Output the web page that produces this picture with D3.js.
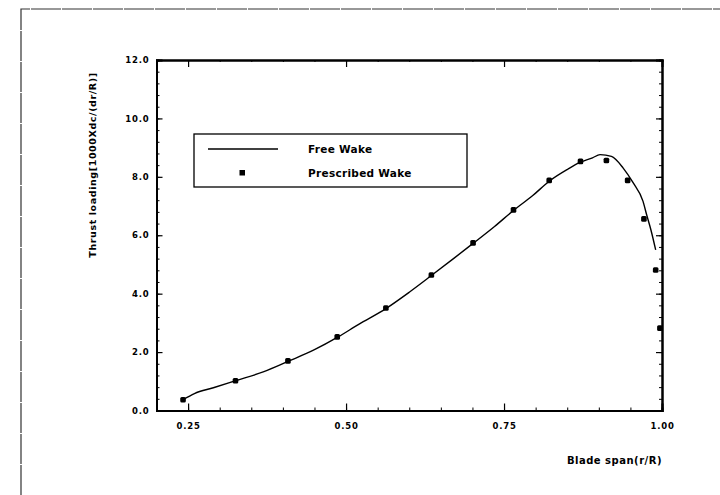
<!DOCTYPE html>
<html>
<head>
<meta charset="utf-8">
<script src="https://cdn.jsdelivr.net/npm/d3@7"></script>
<style>
  body { margin: 0; background: #fff; }
  svg { display: block; }
  .tick text { font-family: "DejaVu Sans", sans-serif; font-weight: bold; }
</style>
</head>
<body>
<div id="chart"></div>
<script>
// free wake curve
const freeX = [0.242, 0.26, 0.29, 0.325, 0.37, 0.408, 0.45, 0.486, 0.52, 0.563, 0.60, 0.635, 0.67, 0.701,
    0.735, 0.765, 0.795, 0.8215, 0.85, 0.871, 0.89, 0.902, 0.92, 0.9386, 0.9545, 0.97, 0.9757, 0.9824, 0.99];
const freeY = [0.37, 0.58, 0.78, 1.02, 1.33, 1.68, 2.08, 2.50, 2.95, 3.49, 4.05, 4.62, 5.20, 5.72,
    6.30, 6.85, 7.35, 7.85, 8.25, 8.50, 8.65, 8.76, 8.70, 8.30, 7.79, 7.16, 6.70, 6.19, 5.50];

// prescribed wake points
const prescX = [0.242, 0.325, 0.408, 0.486, 0.563, 0.635, 0.701, 0.765, 0.8215, 0.871, 0.912, 0.9456, 0.9714, 0.99, 0.9967];
const prescY = [0.37, 1.02, 1.70, 2.52, 3.51, 4.64, 5.74, 6.87, 7.88, 8.53, 8.56, 7.88, 6.56, 4.81, 2.82];

// ticks
const xMajor = [0.25, 0.50, 0.75, 1.00];
const yMajor = [0, 2, 4, 6, 8, 10, 12];
const xMinor = d3.range(0, 17).map(i => +(0.2 + i * 0.05).toFixed(2));
const yMinor = d3.range(0, 31).map(i => +(i * 0.4).toFixed(1));

const legendLabels = ["Free Wake", "Prescribed Wake"];

const width = 720, height = 495;
const plotLeft = 156.5, plotRight = 662, plotTop = 60, plotBottom = 410.5;

const svg = d3.select("#chart").append("svg")
    .attr("width", width)
    .attr("height", height);

//outer frame of the scanned page
svg.append("path")
    .attr("d", `M21,${height}V9H${width}`)
    .attr("fill", "none")
    .attr("stroke", "#333")
    .attr("stroke-width", 1.2)
    .attr("stroke-dasharray", "30,1");

const x = d3.scaleLinear([0.2, 1.0], [plotLeft, plotRight]);
const y = d3.scaleLinear([0, 12], [plotBottom, plotTop]);

function styleAxis(g, minor) {
    g.select(".domain").attr("stroke-width", 2).attr("stroke", "#000");
    g.selectAll(".tick line").attr("stroke", "#000").attr("stroke-width", minor ? 1 : 1.2);
}

//minor ticks
svg.append("g").attr("transform", `translate(0,${plotBottom})`)
    .call(d3.axisBottom(x).tickValues(xMinor).tickSize(-3).tickFormat(""))
    .call(g => styleAxis(g, true));
svg.append("g").attr("transform", `translate(${plotLeft},0)`)
    .call(d3.axisLeft(y).tickValues(yMinor).tickSize(-3).tickFormat(""))
    .call(g => styleAxis(g, true));
svg.append("g").attr("transform", `translate(${plotRight},0)`)
    .call(d3.axisRight(y).tickValues(yMinor).tickSize(-3).tickFormat(""))
    .call(g => styleAxis(g, true));
svg.append("g").attr("transform", `translate(0,${plotTop})`)
    .call(d3.axisTop(x).tickValues(xMinor).tickSize(-2).tickFormat(""))
    .call(g => styleAxis(g, true));

//major ticks with labels
svg.append("g").attr("transform", `translate(0,${plotBottom})`)
    .call(d3.axisBottom(x).tickValues(xMajor).tickSize(-7).tickPadding(12).tickFormat(d3.format(".2f")))
    .call(g => styleAxis(g, false))
    .call(g => g.selectAll(".tick text").attr("font-size", 8.5).attr("letter-spacing", 0.8).attr("fill", "#000"));
svg.append("g").attr("transform", `translate(${plotLeft},0)`)
    .call(d3.axisLeft(y).tickValues(yMajor).tickSize(-6).tickPadding(7).tickFormat(d3.format(".1f")))
    .call(g => styleAxis(g, false))
    .call(g => g.selectAll(".tick text").attr("font-size", 8.5).attr("letter-spacing", 0.8).attr("fill", "#000"));
svg.append("g").attr("transform", `translate(${plotRight},0)`)
    .call(d3.axisRight(y).tickValues(yMajor).tickSize(-6).tickFormat(""))
    .call(g => styleAxis(g, false));
svg.append("g").attr("transform", `translate(0,${plotTop})`)
    .call(d3.axisTop(x).tickValues(xMajor.slice(0, 3)).tickSize(-7).tickFormat(""))
    .call(g => styleAxis(g, false));

//axis titles
svg.append("text")
    .attr("transform", `translate(96,165) rotate(-90)`)
    .attr("text-anchor", "middle")
    .attr("font-family", "DejaVu Sans, sans-serif")
    .attr("font-weight", "bold")
    .attr("font-size", 9.5)
    .attr("letter-spacing", 0.6)
    .text("Thrust loading[1000Xdc/(dr/R)]");

svg.append("text")
    .attr("x", 662)
    .attr("y", 464)
    .attr("text-anchor", "end")
    .attr("font-family", "DejaVu Sans, sans-serif")
    .attr("font-weight", "bold")
    .attr("font-size", 10)
    .attr("letter-spacing", 0.5)
    .text("Blade span(r/R)");

//free wake line
const line = d3.line()
    .x(d => x(d[0]))
    .y(d => y(d[1]))
    .curve(d3.curveMonotoneX);

svg.append("path")
    .datum(d3.zip(freeX, freeY))
    .attr("fill", "none")
    .attr("stroke", "#000")
    .attr("stroke-width", 1.4)
    .attr("d", line);

//prescribed wake markers
svg.append("g")
    .selectAll("rect")
    .data(d3.zip(prescX, prescY))
    .join("rect")
    .attr("x", d => x(d[0]) - 2.8)
    .attr("y", d => y(d[1]) - 2.8)
    .attr("width", 5.6)
    .attr("height", 5.6)
    .attr("rx", 1.5)
    .attr("fill", "#000");

//legend
const legend = svg.append("g");
legend.append("rect")
    .attr("x", 194)
    .attr("y", 134)
    .attr("width", 273)
    .attr("height", 53)
    .attr("fill", "#fff")
    .attr("stroke", "#000")
    .attr("stroke-width", 1.3);
legend.append("line")
    .attr("x1", 208).attr("x2", 278)
    .attr("y1", 149).attr("y2", 149)
    .attr("stroke", "#000")
    .attr("stroke-width", 1.4);
legend.append("rect")
    .attr("x", 239.5).attr("y", 170)
    .attr("width", 5.5).attr("height", 5.5)
    .attr("fill", "#000");
legend.selectAll("text.lab")
    .data(legendLabels)
    .join("text")
    .attr("class", "lab")
    .attr("x", 308)
    .attr("y", (d, i) => 153 + i * 24)
    .attr("font-family", "DejaVu Sans, sans-serif")
    .attr("font-weight", "bold")
    .attr("font-size", 10.5)
    .attr("letter-spacing", 0.3)
    .text(d => d);
</script>
</body>
</html>
